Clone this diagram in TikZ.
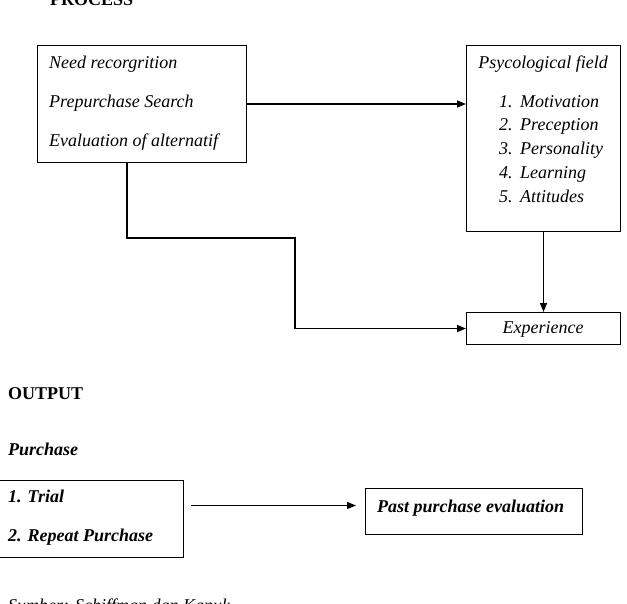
\documentclass[tikz,border=0pt]{standalone}
\usepackage{fontspec}
\setmainfont{Liberation Serif}
\usetikzlibrary{arrows.meta,calc}
\begin{document}
\begin{tikzpicture}[x=1pt,y=-1pt,
  box/.style={draw,line width=1pt,inner sep=0pt,anchor=north west},
  txt/.style={inner sep=0pt,anchor=base west,font=\fontsize{18}{22}\selectfont},
  ctxt/.style={inner sep=0pt,anchor=base,font=\fontsize{18}{22}\selectfont},
  conn/.style={line width=1.3pt},
  arr/.style={line width=1.3pt,-{Triangle[length=9pt,width=7pt]}}]
\useasboundingbox (0,0) rectangle (627,603);
% titles
\node[txt,font=\fontsize{18}{22}\selectfont\bfseries] (process) at (50,5) {PROCESS};
\node[txt,font=\fontsize{18}{22}\selectfont\bfseries] (output) at (8,399) {OUTPUT};
\node[txt,font=\fontsize{18}{22}\selectfont\bfseries\itshape] (purchase) at (8,455) {Purchase};
% boxes
\node[box,minimum width=209pt,minimum height=117pt] (need) at (37,45) {};
\node[box,minimum width=154pt,minimum height=186pt] (psy) at (466,45) {};
\node[box,minimum width=154pt,minimum height=32pt] (exp) at (466,312) {};
\node[box,minimum width=185pt,minimum height=77pt] (trial) at (-2,480) {};
\node[box,minimum width=217pt,minimum height=46pt] (past) at (365,488) {};
% texts in need box
\node[txt,font=\fontsize{18}{22}\selectfont\itshape] (n1) at (49,68) {Need recorgrition};
\node[txt,font=\fontsize{18}{22}\selectfont\itshape] (n2) at (49,107) {Prepurchase Search};
\node[txt,font=\fontsize{18}{22}\selectfont\itshape] (n3) at (49,146) {Evaluation of alternatif};
% psy box
\node[ctxt,font=\fontsize{18}{22}\selectfont\itshape] (pt) at (543,68) {Psycological field};
\foreach \i/\t/\y in {1/Motivation/107,2/Preception/130,3/Personality/154,4/Learning/178,5/Attitudes/202}{
  \node[txt,font=\fontsize{18}{22}\selectfont\itshape] (pn\i) at (499,\y) {\i.};
  \node[txt,font=\fontsize{18}{22}\selectfont\itshape] (pl\i) at (520,\y) {\t};
}
% experience
\node[ctxt,font=\fontsize{18}{22}\selectfont\itshape] (et) at (543,333) {Experience};
% output boxes
\node[txt,font=\fontsize{18}{22}\selectfont\bfseries\itshape] (t1) at (8,502) {1. Trial};
\node[txt,font=\fontsize{18}{22}\selectfont\bfseries\itshape] (t2) at (8,541) {2. Repeat Purchase};
\node[txt,font=\fontsize{18}{22}\selectfont\bfseries\itshape] (pp) at (377,512) {Past purchase evaluation};
% source
\node[txt,font=\fontsize{18}{22}\selectfont\itshape] (src) at (8,611) {Sumber: Schiffman dan Kanuk};
% connectors
\draw[arr] (need.east) -- (need.east -| psy.west);
\coordinate (b1) at (127,238);
\coordinate (b2) at (295,238);
\draw[arr] (need.south west -| b1) -- (b1) -- (b2) -- (b2 |- exp.west) -- (exp.west);
\draw[arr] (psy.south) -- (exp.north);
\draw[arr] ($(trial.east |- past.west)+(7,-6)$) -- ($(past.west)+(-9,-6)$);
\end{tikzpicture}
\end{document}
